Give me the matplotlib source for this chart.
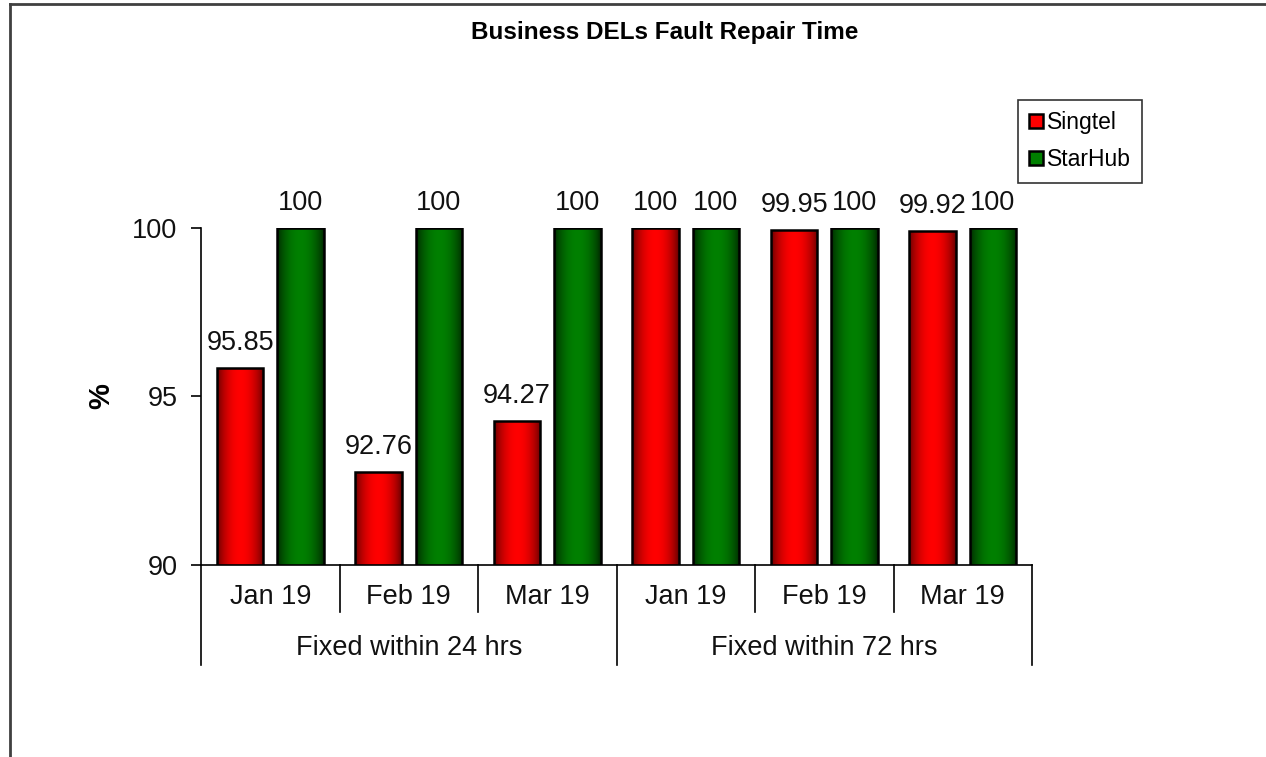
import numpy as np
import matplotlib
matplotlib.use('Agg')
import matplotlib.pyplot as plt
from matplotlib.lines import Line2D
from matplotlib.colors import to_rgb

plt.rcParams['font.family'] = ['Liberation Sans', 'DejaVu Sans']

# Datos
categorias = ['Jan 19', 'Feb 19', 'Mar 19', 'Jan 19', 'Feb 19', 'Mar 19']
grupos = ['Fixed within 24 hrs', 'Fixed within 72 hrs']
singtel = [95.85, 92.76, 94.27, 100, 99.95, 99.92]
starhub = [100, 100, 100, 100, 100, 100]
series = ['Singtel', 'StarHub']

W, H = 1266, 757
fig = plt.figure(figsize=(W / 100, H / 100), dpi=100)
ax = fig.add_axes([201 / W, 1 - 565 / H, (1032 - 201) / W, (565 - 228) / H])

x = np.arange(len(categorias))
ancho = 0.335
desp = 0.2175
fs = 19.5


def barras_degradado(xs, vals, oscuro, claro):
    bars = ax.bar(xs, vals, ancho, color=claro, edgecolor='none', zorder=2)
    t = np.linspace(0, 1, 200)
    b = np.sin(np.pi * t) ** 0.7
    c0, c1 = np.array(to_rgb(oscuro)), np.array(to_rgb(claro))
    img = (c0[None, :] + (c1 - c0)[None, :] * b[:, None])[None, :, :]
    for r in bars:
        im = ax.imshow(img, extent=[r.get_x(), r.get_x() + r.get_width(), 90, r.get_height()],
                       aspect='auto', zorder=2.5, interpolation='bilinear')
        im.set_clip_path(r)
    ax.bar(xs, vals, ancho, fill=False, edgecolor='black', linewidth=1.8, zorder=3)
    return bars


barras_degradado(x - desp, singtel, '#5a0000', '#ff0000')
barras_degradado(x + desp, starhub, '#002200', '#008000')

ax.set_xlim(-0.5, len(categorias) - 0.5)
ax.set_ylim(90, 100)

# Etiquetas de datos
for xs, vals in [(x - desp, singtel), (x + desp, starhub)]:
    for xi, v in zip(xs, vals):
        ax.annotate(f'{v:g}', (xi, v), xytext=(0, 13), textcoords='offset points',
                    ha='center', va='baseline', fontsize=fs, color='#111111',
                    annotation_clip=False)

# Ejes
for s in ['top', 'right']:
    ax.spines[s].set_visible(False)
ax.spines['left'].set_linewidth(1.2)
ax.spines['bottom'].set_linewidth(1.2)
ax.set_yticks([90, 95, 100])
ax.tick_params(axis='y', direction='out', length=7, width=1.2, labelsize=fs, pad=10,
               labelcolor='#111111')
ax.set_xticks([])

# Etiquetas de categorias y grupos
tr = ax.get_xaxis_transform()
for xi, c in zip(x, categorias):
    ax.text(xi, -0.095, c, transform=tr, ha='center', va='center', fontsize=fs, color='#111111')
n = len(categorias) // len(grupos)
for i, g in enumerate(grupos):
    ax.text(i * n + (n - 1) / 2, -0.246, g, transform=tr, ha='center', va='center',
            fontsize=fs, color='#111111')
for k in range(len(categorias) + 1):
    y1 = -0.2967 if k % n == 0 else -0.1395
    ax.plot([k - 0.5, k - 0.5], [0, y1], transform=tr, color='black', lw=1.2, clip_on=False)

# Titulo y eje y
fig.text(664.5 / W, 1 - 32 / H, 'Business DELs Fault Repair Time', ha='center', va='center',
         fontsize=17.5, fontweight='bold')
fig.text(101 / W, 1 - 396 / H, '%', rotation=90, ha='center', va='center', fontsize=21,
         fontweight='bold')

# Leyenda
handles = [Line2D([], [], marker='s', linestyle='none', markersize=10, markerfacecolor=c,
                  markeredgecolor='black', markeredgewidth=1.8)
           for c in ['#ff0000', '#008000']]
leg = fig.legend(handles, series, loc='upper left', bbox_to_anchor=(1018 / W, 1 - 100 / H),
                 fontsize=16.5, frameon=True, fancybox=False, handlelength=0.55,
                 handletextpad=0.2, labelspacing=0.6, borderpad=0.5, borderaxespad=0)
leg.get_frame().set_edgecolor('black')
leg.get_frame().set_linewidth(1.2)

# Borde exterior
fig.add_artist(Line2D([9.5 / W, 1], [1 - 3.5 / H, 1 - 3.5 / H], color='#404040', lw=2))
fig.add_artist(Line2D([9.5 / W, 9.5 / W], [0, 1 - 3.5 / H], color='#404040', lw=2))

fig.savefig('out.png', dpi=100)
